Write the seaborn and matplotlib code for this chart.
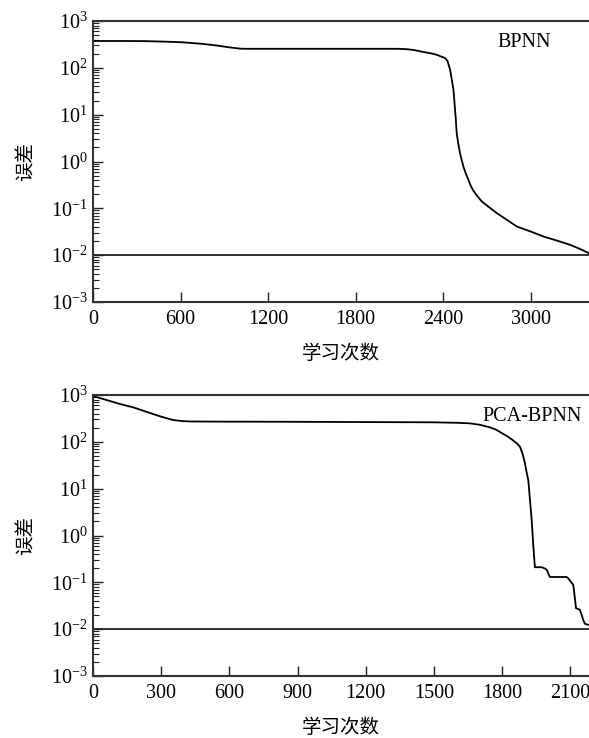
import matplotlib
matplotlib.use("Agg")
import matplotlib.pyplot as plt
import seaborn as sns
import pandas as pd
import numpy as np
from matplotlib.ticker import LogLocator, LogFormatterMathtext, FixedLocator, NullFormatter

# ---- data ----
bp_iter = [0, 200, 350, 500, 619, 750, 848, 930, 1008, 1050, 1500, 2091, 2150, 2200,
           2265, 2320, 2357, 2390, 2414, 2430, 2448, 2460, 2471, 2480, 2487, 2493,
           2505, 2516, 2528, 2539, 2556, 2573, 2588, 2603, 2630, 2665, 2700, 2768,
           2840, 2905, 3000, 3088, 3180, 3271, 3340, 3400]
bp_err = [374, 374, 372, 362, 350, 325, 300, 275, 257, 255, 255, 255, 250, 240,
          218, 203, 190, 172, 162, 140, 91, 55, 34, 15, 8, 4.0,
          2.3, 1.5, 1.05, 0.78, 0.55, 0.41, 0.31, 0.25, 0.19, 0.14, 0.115, 0.079,
          0.056, 0.041, 0.032, 0.025, 0.0205, 0.0166, 0.0135, 0.011]

pca_iter = [0, 60, 120, 177, 240, 300, 353, 390, 430, 560, 867, 1497, 1600, 1658,
            1700, 1746, 1775, 1800, 1822, 1842, 1862, 1878, 1890, 1900, 1908, 1915,
            1922, 1930, 1937, 1944, 1975, 1990, 1998, 2004, 2010, 2084, 2092, 2100,
            2108, 2113, 2119, 2125, 2142, 2150, 2157, 2164, 2182]
pca_err = [950, 780, 640, 545, 430, 344, 292, 278, 272, 270, 268, 261, 255, 248,
           232, 204, 180, 152, 132, 113, 95, 79, 55, 35, 22, 15,
           6, 2.1, 0.6, 0.21, 0.21, 0.195, 0.18, 0.15, 0.13, 0.13, 0.12, 0.105,
           0.095, 0.087, 0.05, 0.028, 0.026, 0.02, 0.0155, 0.013, 0.0123]

goal_err = 0.01
bp_xticks = [0, 600, 1200, 1800, 2400, 3000]
pca_xticks = [0, 300, 600, 900, 1200, 1500, 1800, 2100]
bp_xmax = 3400
pca_xmax = 2182
x_label = "学习次数"
y_label = "误差"

sns.set_theme(style="white")
plt.rcParams["font.family"] = ["Liberation Serif", "Noto Sans CJK SC"]
plt.rcParams["mathtext.fontset"] = "stix"

fig = plt.figure(figsize=(5.89, 7.38), dpi=100)
ax1 = fig.add_axes([93 / 589, 1 - 302 / 738, 1 - 93 / 589, 281 / 738])
ax2 = fig.add_axes([93 / 589, 1 - 676 / 738, 1 - 93 / 589, 281 / 738])

panels = [
    (ax1, bp_iter, bp_err, bp_xticks, bp_xmax, "BPNN"),
    (ax2, pca_iter, pca_err, pca_xticks, pca_xmax, "PCA-BPNN"),
]

for ax, xs, ys, xt, xmax, name in panels:
    df = pd.DataFrame({"iter": xs, "err": ys})
    sns.lineplot(data=df, x="iter", y="err", ax=ax, color="black", lw=1.3, sort=False)
    ax.axhline(goal_err, color="#222222", lw=1.3)
    ax.set_yscale("log")
    ax.set_ylim(1e-3, 1e3)
    ax.set_xlim(0, xmax)
    ax.xaxis.set_major_locator(FixedLocator(xt))
    ax.yaxis.set_major_locator(LogLocator(base=10, numticks=10))
    ax.yaxis.set_minor_locator(LogLocator(base=10, subs=np.arange(2, 10), numticks=20))
    ax.yaxis.set_major_formatter(LogFormatterMathtext())
    ax.yaxis.set_minor_formatter(NullFormatter())
    ax.tick_params(axis="x", direction="in", length=7, width=1, colors="#222222",
                   labelsize=14.5, pad=6, top=False, bottom=True)
    ax.tick_params(axis="y", which="major", direction="in", length=7, width=1,
                   colors="#222222", labelsize=14.5, pad=4, left=True)
    ax.tick_params(axis="y", which="minor", direction="in", length=4, width=0.8,
                   colors="#222222", left=True)
    for lab in ax.get_xticklabels() + ax.get_yticklabels():
        lab.set_color("black")
    for s in ["left", "bottom", "top"]:
        ax.spines[s].set_color("#333333")
        ax.spines[s].set_linewidth(1.5)
    ax.spines["right"].set_visible(False)
    ax.set_xlabel(x_label, fontsize=14, family=["Noto Sans CJK SC"], labelpad=10, color="black")
    ax.set_ylabel(y_label, fontsize=14, family=["Noto Sans CJK SC"], labelpad=10, color="black")
    ax.text(0.985 if name == "PCA-BPNN" else 0.87, 0.925, name, transform=ax.transAxes,
            ha="right" if name == "PCA-BPNN" else "center", va="center",
            fontsize=14.5, color="black")

fig.savefig("out.png", dpi=100)
